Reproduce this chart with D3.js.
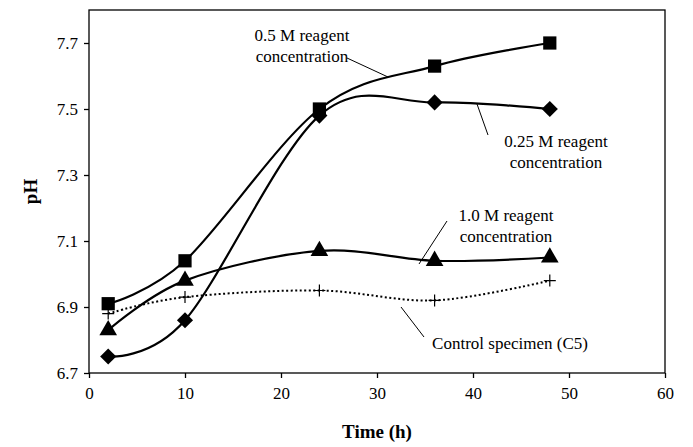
<!DOCTYPE html>
<html lang="en">
<head>
<meta charset="UTF-8">
<title>pH vs time</title>
<script src="https://d3js.org/d3.v7.min.js"></script>
<style>
    body { margin: 0; background: #fff; }
    svg text { font-family: "Liberation Serif", "DejaVu Serif", serif !important; fill: #000; }
    .tick text { font-size: 17px; }
    .axis-title { font-size: 19px; font-weight: bold; }
    .note { font-size: 17px; }
</style>
</head>
<body>
<script>
    // data
    const times = [2, 10, 24, 36, 48];
    const ph05 = [6.91, 7.04, 7.50, 7.63, 7.70];
    const ph025 = [6.75, 6.86, 7.48, 7.52, 7.50];
    const ph10 = [6.83, 6.98, 7.07, 7.04, 7.05];
    const phControl = [6.88, 6.93, 6.95, 6.92, 6.98];
    const xTicks = [0, 10, 20, 30, 40, 50, 60];
    const yTicks = [6.7, 6.9, 7.1, 7.3, 7.5, 7.7];

    const width = 693, height = 447;
    const plotL = 89, plotR = 665, plotT = 10, plotB = 373;

    const svg = d3.select("body").append("svg")
        .attr("width", width)
        .attr("height", height);

    const x = d3.scaleLinear().domain([0, 60]).range([plotL, plotR]);
    const y = d3.scaleLinear().domain([6.7, 7.8]).range([plotB, plotT]);

    // frame
    svg.append("rect")
        .attr("x", plotL).attr("y", plotT)
        .attr("width", plotR - plotL).attr("height", plotB - plotT)
        .attr("fill", "none").attr("stroke", "#000").attr("stroke-width", 1.3);

    svg.append("g")
        .attr("transform", `translate(0,${plotB})`)
        .attr("font-family", null)
        .call(d3.axisBottom(x).tickValues(xTicks).tickSize(5).tickPadding(9))
        .call(g => g.select(".domain").remove())
        .call(g => g.selectAll("line").attr("stroke-width", 1.3));

    svg.append("g")
        .attr("transform", `translate(${plotL},0)`)
        .call(d3.axisLeft(y).tickValues(yTicks).tickFormat(d3.format(".1f")).tickSize(5).tickPadding(6))
        .call(g => g.select(".domain").remove())
        .call(g => g.selectAll("line").attr("stroke-width", 1.3));

    svg.append("text").attr("class", "axis-title")
        .attr("x", (plotL + plotR) / 2).attr("y", 438)
        .attr("text-anchor", "middle").text("Time (h)");

    svg.append("text").attr("class", "axis-title")
        .attr("transform", `translate(37,${(plotT + plotB) / 2}) rotate(-90)`)
        .attr("text-anchor", "middle").text("pH");

    const line = d3.line()
        .x(d => x(d[0]))
        .y(d => y(d[1]))
        .curve(d3.curveCardinal.tension(0));

    const series = [
        { vals: ph05, marker: "square", dash: null },
        { vals: ph025, marker: "diamond", dash: null },
        { vals: ph10, marker: "triangle", dash: null },
        { vals: phControl, marker: "plus", dash: "2,2.5" }
    ];

    const symbols = {
        square: d3.symbol().type(d3.symbolSquare).size(175),
        diamond: d3.symbol().type(d3.symbolDiamond2).size(165),
        triangle: d3.symbol().type(d3.symbolTriangle).size(135)
    };

    series.forEach(s => {
        const pts = times.map((t, i) => [t, s.vals[i]]);
        svg.append("path")
            .attr("d", line(pts))
            .attr("fill", "none")
            .attr("stroke", "#000")
            .attr("stroke-width", s.dash ? 2 : 2.2)
            .attr("stroke-dasharray", s.dash);

        if (s.marker === "plus") {
            svg.selectAll(null).data(pts).enter().append("path")
                .attr("d", d => `M${x(d[0]) - 6},${y(d[1])}H${x(d[0]) + 6}M${x(d[0])},${y(d[1]) - 6}V${y(d[1]) + 6}`)
                .attr("stroke", "#000").attr("stroke-width", 1.2);
        } else {
            svg.selectAll(null).data(pts).enter().append("path")
                .attr("transform", d => `translate(${x(d[0])},${y(d[1])})`)
                .attr("d", symbols[s.marker])
                .attr("fill", "#000");
        }
    });

    // callouts
    const notes = [
        { lines: ["0.5 M reagent", "concentration"], tx: 302, ty: 41, lead: [347, 58, 388, 77] },
        { lines: ["0.25 M reagent", "concentration"], tx: 556, ty: 147, lead: [488, 135, 477, 104] },
        { lines: ["1.0 M reagent", "concentration"], tx: 506, ty: 221, lead: [447, 221, 419, 264] },
        { lines: ["Control specimen (C5)"], tx: 510, ty: 349, lead: [424, 337, 401, 307] }
    ];

    notes.forEach(n => {
        const t = svg.append("text").attr("class", "note")
            .attr("text-anchor", "middle");
        n.lines.forEach((l, i) => {
            t.append("tspan").attr("x", n.tx).attr("y", n.ty + i * 21).text(l);
        });
        svg.append("line")
            .attr("x1", n.lead[0]).attr("y1", n.lead[1])
            .attr("x2", n.lead[2]).attr("y2", n.lead[3])
            .attr("stroke", "#000").attr("stroke-width", 1);
    });
</script>
</body>
</html>
